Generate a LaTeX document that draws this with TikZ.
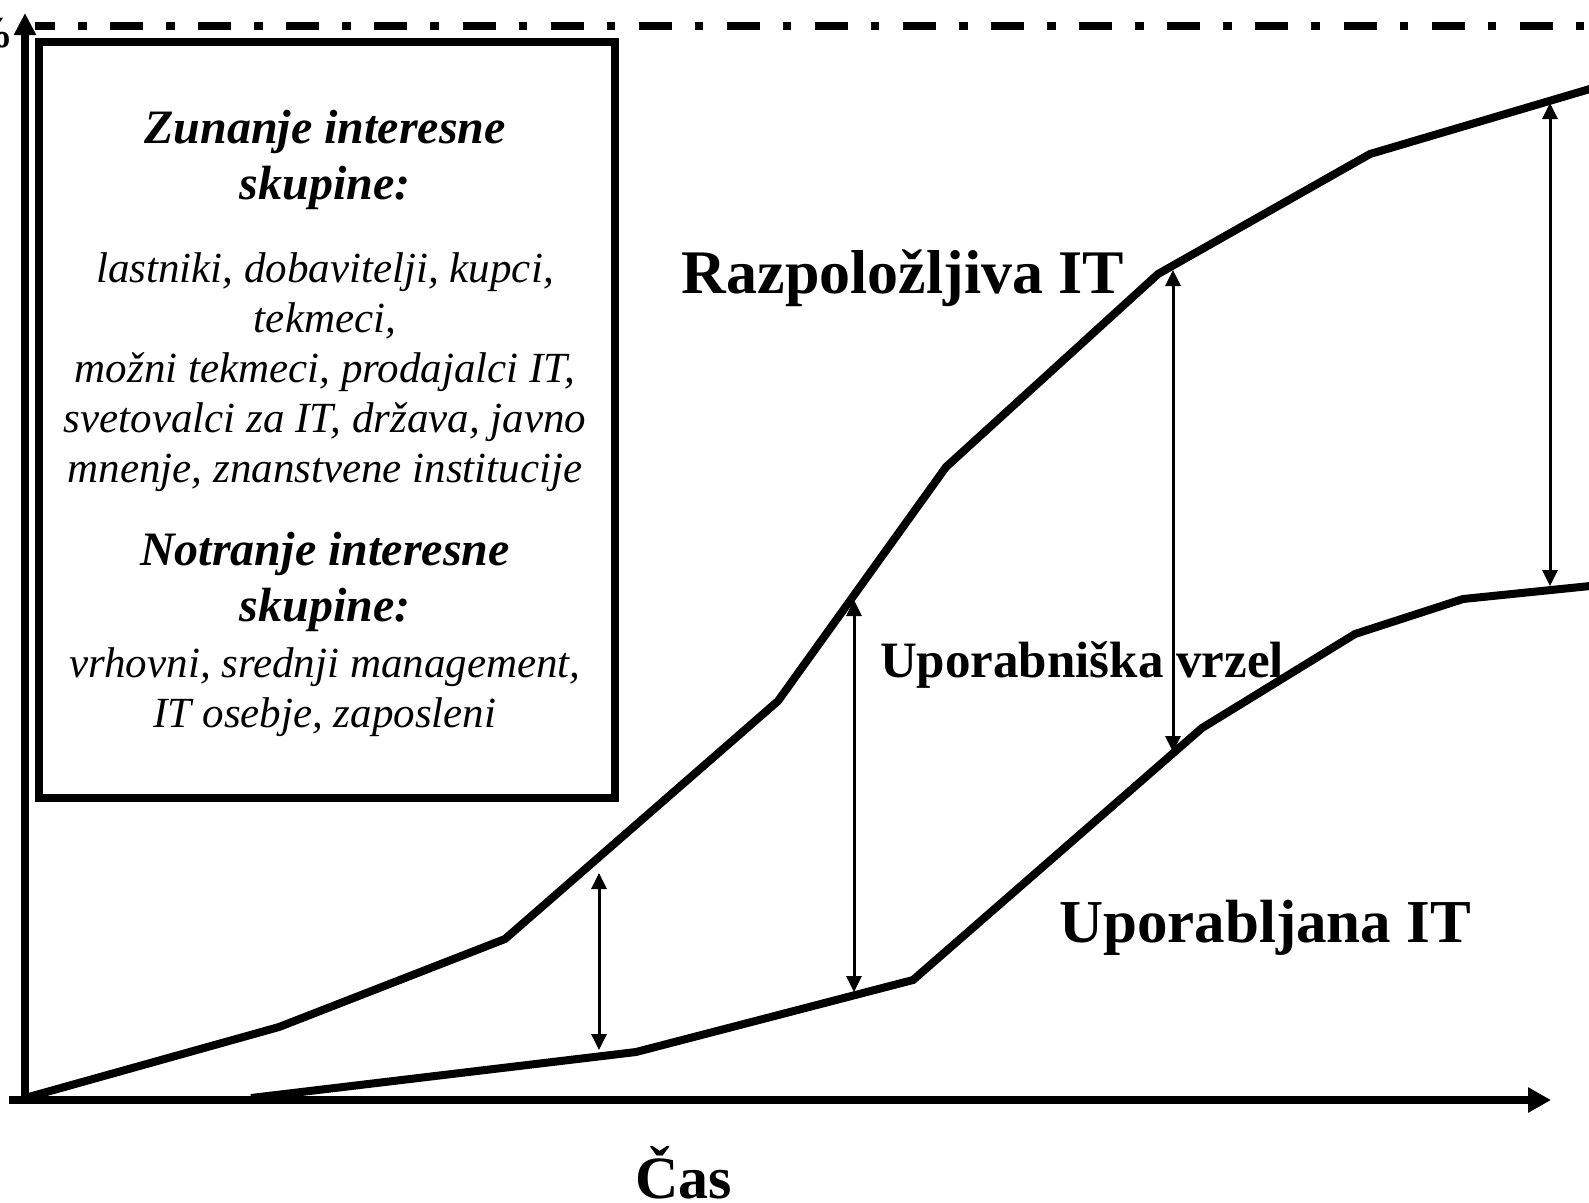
\documentclass[tikz,border=0pt]{standalone}
\usepackage{fontspec}
\setmainfont{Liberation Serif}
\usetikzlibrary{arrows.meta}
\tikzset{
  curve/.style={line width=8pt, line join=miter},
  axis/.style={line width=8pt},
  gap/.style={line width=3pt, {Triangle[length=16pt,width=15pt]}-{Triangle[length=16pt,width=15pt]}},
  boxtxt/.style={font=\fontsize{43}{50}\selectfont\itshape, align=center, inner sep=0pt},
  boxhead/.style={font=\fontsize{48}{56}\selectfont\bfseries\itshape, align=center, inner sep=0pt},
  biglbl/.style={font=\fontsize{62}{70}\selectfont\bfseries, inner sep=0pt, anchor=base}
}
\begin{document}
\begin{tikzpicture}[x=1pt,y=-1pt]
\useasboundingbox (0,0) rectangle (1589,1202);
\clip (0,0) rectangle (1589,1202);
% clipped axis label
\node[font=\fontsize{44}{46}\selectfont\bfseries, anchor=base east, inner sep=0pt] (pct) at (14,47) {100\%};
% top dash-dot line
\coordinate (tl) at (35,26);
\coordinate (tr) at (1600,26);
\draw[line width=8pt, dash pattern=on 33pt off 23pt on 8.5pt off 23.6pt, dash phase=13pt] (tl) -- (tr);
% axes
\coordinate (o) at (25,1100);
\coordinate (ytop) at (25,13);
\coordinate (xl) at (9,1100);
\coordinate (xr) at (1551,1100);
\draw[axis, -{Triangle[length=22pt,width=21pt]}] (o) -- (ytop);
\draw[axis, -{Triangle[length=23pt,width=24pt]}] (xl) -- (xr);
% box
\node[draw, line width=8pt, minimum width=576pt, minimum height=756pt, inner sep=0pt] (box) at (327,420) {};
\node[boxhead] (h1) at (325,160) {Zunanje interesne\\skupine:};
\node[boxtxt] (t1) at (325,372) {lastniki, dobavitelji, kupci,\\tekmeci,\\možni tekmeci, prodajalci IT,\\svetovalci za IT, država, javno\\mnenje, znanstvene institucije};
\node[boxhead] (h2) at (325,582) {Notranje interesne\\skupine:};
\node[boxtxt] (t2) at (325,692) {vrhovni, srednji management,\\IT osebje, zaposleni};
% upper curve
\coordinate (a0) at (25,1098);
\coordinate (a1) at (279,1027);
\coordinate (a2) at (505,939);
\coordinate (a3) at (778,701);
\coordinate (a4) at (946,467);
\coordinate (a5) at (1158,274);
\coordinate (a6) at (1370,154);
\coordinate (a7) at (1600,86);
\draw[curve] (a0) -- (a1) -- (a2) -- (a3) -- (a4) -- (a5) -- (a6) -- (a7);
% lower curve
\coordinate (b0) at (251,1098);
\coordinate (b1) at (636,1052);
\coordinate (b2) at (913,980);
\coordinate (b3) at (1202,728);
\coordinate (b4) at (1355,634);
\coordinate (b5) at (1463,599);
\coordinate (b6) at (1600,585);
\draw[curve] (b0) -- (b1) -- (b2) -- (b3) -- (b4) -- (b5) -- (b6);
% gap arrows
\coordinate (g1t) at (599,873);  \coordinate (g1b) at (599,1050);
\coordinate (g2t) at (854,600);  \coordinate (g2b) at (854,992);
\coordinate (g3t) at (1173,270); \coordinate (g3b) at (1173,752);
\coordinate (g4t) at (1550,103); \coordinate (g4b) at (1550,586);
\draw[gap] (g1t) -- (g1b);
\draw[gap] (g2t) -- (g2b);
\draw[gap] (g3t) -- (g3b);
\draw[gap] (g4t) -- (g4b);
% labels
\node[biglbl] (raz) at (903,293) {Razpoložljiva IT};
\node[biglbl, font=\fontsize{61}{70}\selectfont\bfseries] (upo) at (1265,942) {Uporabljana IT};
\node[biglbl, font=\fontsize{51}{60}\selectfont\bfseries] (vrz) at (1082,677) {Uporabniška vrzel};
\node[biglbl, font=\fontsize{60}{70}\selectfont\bfseries] (cas) at (684,1198) {Čas};
\end{tikzpicture}
\end{document}
